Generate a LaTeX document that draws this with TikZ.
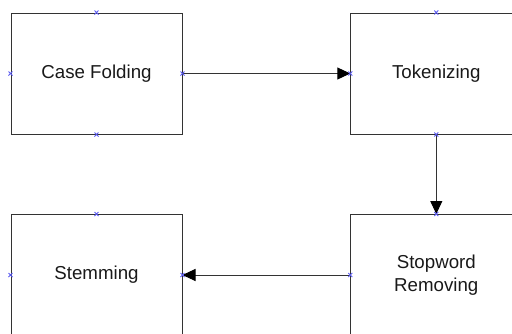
\documentclass[tikz,border=0pt]{standalone}
\usepackage{fontspec}
\setmainfont{Liberation Sans}
\usetikzlibrary{arrows.meta}
\definecolor{markblue}{RGB}{90,90,240}
\tikzset{
  procbox/.style={draw=black!80, line width=1pt, minimum width=171pt, minimum height=121pt,
    inner sep=0pt, align=center, font=\fontsize{18.7}{23}\selectfont, text=black!90},
  flow/.style={draw=black!80, line width=1pt, -{Triangle[length=13pt,width=12pt,fill=black,color=black]}},
  xmark/.style={draw=markblue, line width=0.8pt}
}
\begin{document}
\begin{tikzpicture}[x=1pt,y=-1pt]
\useasboundingbox (0,0) rectangle (512,333);
\clip (0,0) rectangle (512,333);
\node[procbox] (cf) at (96.5,73.5) {Case Folding};
\node[procbox] (tok) at (436.3,73.5) {Tokenizing};
\node[procbox] (stem) at (96.5,275) {Stemming};
\node[procbox] (stop) at (436.3,275) {Stopword\\Removing};
\draw[flow] (cf.east) -- (tok.west);
\draw[flow] (tok.south) -- (stop.north);
\draw[flow] (stop.west) -- (stem.east);
\foreach \p in {cf.north,cf.south,cf.east,cf.west,tok.north,tok.south,tok.west,
                stem.north,stem.east,stem.west,stop.north,stop.west}{
    \draw[xmark] ([shift={(-2pt,-2pt)}]\p) -- ([shift={(2pt,2pt)}]\p)
                 ([shift={(-2pt,2pt)}]\p) -- ([shift={(2pt,-2pt)}]\p);
}
\end{tikzpicture}
\end{document}
